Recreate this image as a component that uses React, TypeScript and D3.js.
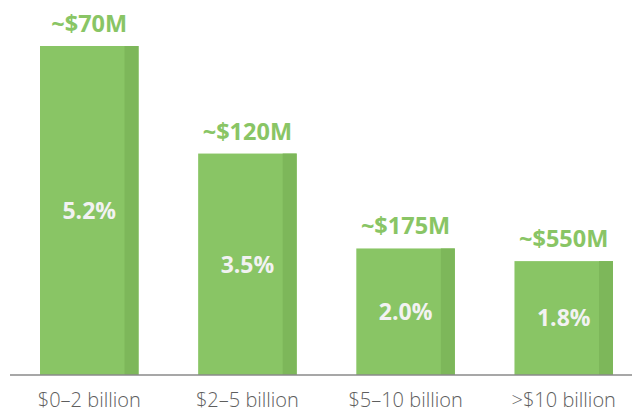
import { useEffect, useRef } from 'react';
import * as d3 from 'd3';

const categories = ['$0–2 billion', '$2–5 billion', '$5–10 billion', '>$10 billion'];
const rates = [5.2, 3.5, 2.0, 1.8];
const costLabels = ['~$70M', '~$120M', '~$175M', '~$550M'];

const App = () => {
  const svgRef = useRef<SVGSVGElement>(null);

  useEffect(() => {
    const width = 632;
    const height = 414;
    const baseY = 375;
    const green = '#89c565';
    const darkGreen = '#7db75a';

    const data = categories.map((c, i) => ({ cat: c, rate: rates[i], cost: costLabels[i] }));

    const svg = d3.select(svgRef.current).attr('width', width).attr('height', height);
    svg.selectAll('*').remove();

    const x = d3
      .scaleBand()
      .domain(categories)
      .range([40, 613])
      .paddingInner(0.377)
      .paddingOuter(0);

    const y = d3
      .scaleLinear()
      .domain([0, d3.max(rates) as number])
      .range([baseY, 46]);

    const stripW = 14;

    const g = svg.selectAll('g.bar').data(data).enter().append('g').attr('class', 'bar');

    g.append('rect')
      .attr('x', (d) => x(d.cat)!)
      .attr('y', (d) => y(d.rate))
      .attr('width', x.bandwidth())
      .attr('height', (d) => baseY - y(d.rate))
      .attr('fill', green);

    g.append('rect')
      .attr('x', (d) => x(d.cat)! + x.bandwidth() - stripW)
      .attr('y', (d) => y(d.rate))
      .attr('width', stripW)
      .attr('height', (d) => baseY - y(d.rate))
      .attr('fill', darkGreen);

    // cost label above bar
    g.append('text')
      .attr('x', (d) => x(d.cat)! + x.bandwidth() / 2)
      .attr('y', (d) => y(d.rate) - 14)
      .attr('text-anchor', 'middle')
      .attr('fill', green)
      .style('font-family', '"Open Sans", sans-serif')
      .style('font-weight', 'bold')
      .style('font-size', '23.5px')
      .text((d) => d.cost);

    // percentage inside bar
    g.append('text')
      .attr('x', (d) => x(d.cat)! + x.bandwidth() / 2)
      .attr('y', (d) => (y(d.rate) + baseY) / 2)
      .attr('dy', '0.36em')
      .attr('text-anchor', 'middle')
      .attr('fill', '#f2f2f2')
      .style('font-family', '"Open Sans", sans-serif')
      .style('font-weight', 'bold')
      .style('font-size', '23px')
      .text((d) => d.rate.toFixed(1) + '%');

    // category labels
    g.append('text')
      .attr('x', (d) => x(d.cat)! + x.bandwidth() / 2)
      .attr('y', 407)
      .attr('text-anchor', 'middle')
      .attr('fill', '#5e5e5e')
      .style('font-family', '"Open Sans", sans-serif')
      .style('font-weight', 300)
      .style('font-size', '20px')
      .text((d) => d.cat);

    svg
      .append('line')
      .attr('x1', 10)
      .attr('x2', width)
      .attr('y1', baseY)
      .attr('y2', baseY)
      .attr('stroke', '#8a8a8a')
      .attr('stroke-width', 1.5);
  }, []);

  return (
    <svg
      ref={svgRef}
      style={{ position: 'absolute', left: 0, top: 0, display: 'block', background: '#fff' }}
    ></svg>
  );
};

export default App;
